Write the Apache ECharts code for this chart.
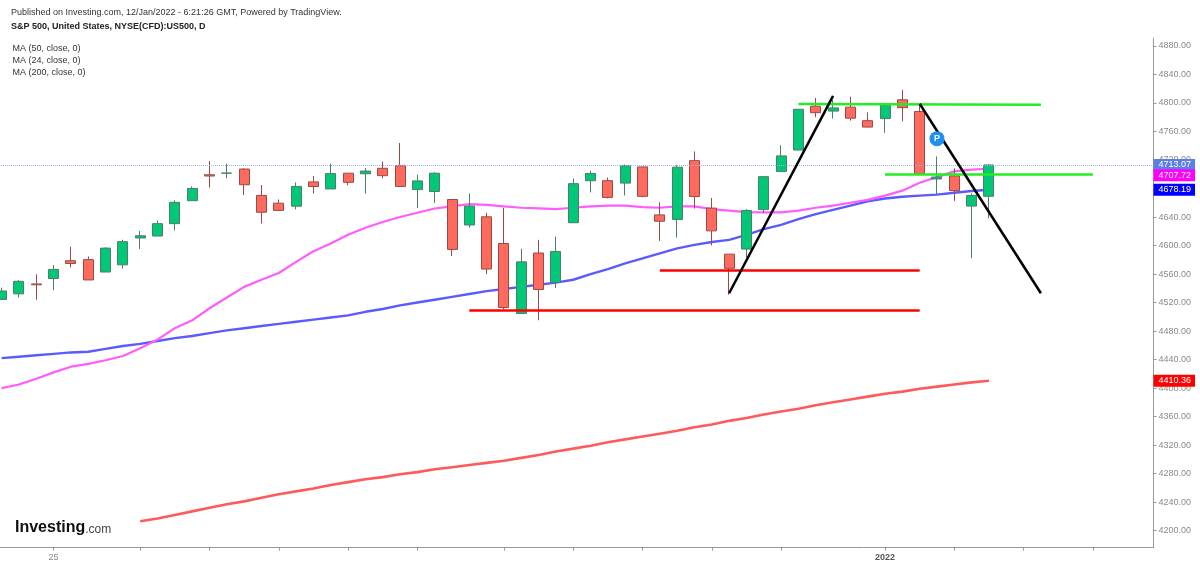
<!DOCTYPE html>
<html><head><meta charset="utf-8">
<script src="https://cdn.jsdelivr.net/npm/echarts@6/dist/echarts.min.js"></script>
<style>html,body{margin:0;padding:0;background:#fff;width:1200px;height:566px;overflow:hidden;position:relative}#c{position:absolute;left:-7px;top:0;width:1207px;height:566px}</style>
</head><body><div id="c"></div>
<script>
const dates = ['2021-10-20','2021-10-21','2021-10-22','2021-10-25','2021-10-26','2021-10-27','2021-10-28','2021-10-29',
'2021-11-01','2021-11-02','2021-11-03','2021-11-04','2021-11-05','2021-11-08','2021-11-09','2021-11-10','2021-11-11','2021-11-12',
'2021-11-15','2021-11-16','2021-11-17','2021-11-18','2021-11-19','2021-11-22','2021-11-23','2021-11-24','2021-11-26','2021-11-29','2021-11-30',
'2021-12-01','2021-12-02','2021-12-03','2021-12-06','2021-12-07','2021-12-08','2021-12-09','2021-12-10','2021-12-13','2021-12-14','2021-12-15',
'2021-12-16','2021-12-17','2021-12-20','2021-12-21','2021-12-22','2021-12-23','2021-12-27','2021-12-28','2021-12-29','2021-12-30','2021-12-31',
'2022-01-03','2022-01-04','2022-01-05','2022-01-06','2022-01-07','2022-01-10','2022-01-11'];
const futureDates = ['2022-01-12','2022-01-13','2022-01-14','2022-01-17','2022-01-18','2022-01-19','2022-01-20','2022-01-21','2022-01-24'];

const opens = [4524.4,4532.2,4546.1,4553.7,4578.7,4580.2,4562.8,4572.9,4610.6,4613.3,4630.7,4662.9,4699.3,4701.5,4707.3,4670.3,4659.4,4655.2,
4689.3,4679.4,4701.5,4700.7,4708.4,4712.0,4678.5,4675.8,4664.6,4628.8,4640.3,4602.8,4504.7,4589.5,4548.4,4632.0,4690.9,4691.0,4687.6,4710.3,
4643.0,4636.5,4719.1,4652.5,4587.9,4595.0,4650.4,4704.0,4734.0,4795.5,4788.6,4794.2,4775.2,4778.1,4804.5,4788.0,4693.4,4697.7,4655.3,4669.1];
const highs = [4540.9,4551.4,4559.7,4572.6,4598.5,4584.6,4597.6,4608.1,4620.3,4635.2,4663.5,4683.0,4718.5,4714.9,4708.5,4684.9,4664.6,4688.5,
4697.4,4715.0,4701.5,4708.8,4717.8,4743.8,4699.4,4702.9,4664.6,4673.0,4646.0,4652.9,4595.5,4608.0,4612.6,4694.0,4705.1,4695.3,4713.6,4710.3,
4660.5,4712.6,4732.0,4666.7,4587.9,4651.1,4697.7,4740.7,4791.5,4807.0,4804.1,4808.9,4786.8,4796.6,4818.6,4797.7,4725.0,4708.0,4673.0,4714.1];
const lows = [4524.4,4526.9,4524.0,4537.4,4569.2,4551.7,4562.8,4567.6,4595.1,4613.3,4621.2,4662.6,4681.3,4694.4,4670.9,4630.9,4648.3,4650.8,
4672.9,4679.4,4684.4,4672.8,4694.2,4682.2,4652.7,4659.9,4585.4,4625.3,4560.0,4510.3,4504.7,4495.1,4540.5,4632.0,4674.5,4666.0,4670.2,4667.6,
4606.5,4611.2,4651.9,4600.2,4531.1,4583.2,4645.5,4704.0,4734.0,4780.0,4778.1,4775.3,4765.8,4758.2,4774.3,4699.4,4671.3,4662.7,4582.2,4638.3];
const closes = [4536.2,4549.8,4544.9,4566.5,4574.8,4551.7,4596.4,4605.4,4613.7,4630.7,4660.6,4680.1,4697.5,4701.7,4685.3,4646.7,4649.3,4682.9,
4682.8,4700.9,4688.7,4704.5,4698.0,4682.9,4690.7,4701.5,4594.6,4655.3,4567.0,4513.0,4577.1,4538.4,4591.7,4686.8,4701.2,4667.5,4712.0,4669.0,
4634.1,4709.9,4668.7,4620.6,4568.0,4649.2,4696.6,4725.8,4791.2,4786.4,4793.1,4778.7,4766.2,4796.6,4793.5,4700.6,4696.1,4677.0,4670.3,4713.07];

const ma50 = [4442,4444,4446,4448,4450,4451,4455,4459,4462,4466,4470,4473,4477,4481,4484,4487,4490,4493,4496,4499,4502,4507,4511,4516,4520,
4524,4528,4532,4536,4539,4542,4545,4548,4552,4560,4567,4575,4582,4589,4596,4601,4605,4608,4615,4623,4629,4637,4644,4650,4656,4662,4666,
4668.5,4670,4671.5,4674,4676.5,4678.19];
const ma24 = [4400,4405,4413,4422,4430,4434,4439,4445,4456,4468,4484,4495,4512,4527,4542,4552,4561.5,4577,4592,4603,4615,4625,4633,4640,4646,
4652,4655,4658,4657,4655,4653,4652,4651,4653,4655,4656,4656,4654,4653,4655,4655,4651,4649,4647,4646.5,4646.5,4649,4653,4656,4660,4664,4670,
4677,4688,4696,4704,4706.5,4707.72];
const ma200 = ['-','-','-','-','-','-','-','-',4213,4217,4222,4227,4232,4237,4241,4246,4251,4255,4259,4264,4268,4272,4275,4279,4282,4286,4289,
4292,4295,4298,4302,4306,4311,4315,4319,4324,4328,4332,4336,4340,4345,4349,4354,4358,4363,4367,4371,4376,4380,4384,4388,4392,4395,4399,4402,
4405,4408,4410.36];

const yTicks = [4200,4240,4280,4320,4360,4400,4440,4480,4520,4560,4600,4640,4680,4720,4760,4800,4840,4880];
const xTickDates = ['2021-10-25','2021-11-01','2021-11-05','2021-11-11','2021-11-17','2021-11-23','2021-12-01','2021-12-07','2021-12-13',
'2021-12-17','2021-12-23','2022-01-03','2022-01-07','2022-01-13','2022-01-19'];
const xLabelDates = ['2021-10-25','2022-01-03'];
const xLabelTexts = ['25','2022'];

// drawing annotations in data coordinates [category index, price]
const blackLines = [[[42,4533],[48,4810]],[[53,4799],[60,4533]]];
const greenLines = [[[46,4798.5],[60,4797.5]],[[51,4700],[63,4700]]];
const redLines = [[[38,4565.5],[53,4565.5]],[[27,4509.5],[53,4509.5]]];
const pMarker = [54,4750];

const cats = dates.concat(futureDates);
const pad = arr => arr.concat(futureDates.map(() => '-'));
const candles = dates.map((d,i) => [opens[i], closes[i], lows[i], highs[i]]);
const last = a => a[a.length-1];
const OX = 7; // chart canvas is shifted 7px left of the page

function seg(lines, color, width) {
  return lines.map(l => [
    {coord: l[0], lineStyle: {color, width, type: 'solid'}},
    {coord: l[1], lineStyle: {color, width, type: 'solid'}}
  ]);
}
function tag(value, text, bg, lineStyle) {
  return {
    yAxis: value,
    lineStyle: lineStyle || {color: 'rgba(0,0,0,0)', width: 0},
    label: {show: true, position: 'end', distance: 0, formatter: text, color: '#fff', backgroundColor: bg,
            fontSize: 9, fontFamily: 'Arial, Liberation Sans, sans-serif', padding: [1, 4, 1, 5], lineHeight: 10}
  };
}
const F = 'Arial, Liberation Sans, sans-serif';

const chart = echarts.init(document.getElementById('c'), null, {renderer: 'canvas'});
chart.setOption({
  animation: false,
  backgroundColor: '#fff',
  textStyle: {fontFamily: F},
  grid: {left: 0, right: 46.5, top: 38, bottom: 18.3, containLabel: false},
  xAxis: {
    type: 'category', data: cats, boundaryGap: true,
    axisLine: {show: true, lineStyle: {color: '#9a9a9a', width: 1}},
    axisTick: {show: true, alignWithLabel: true, length: 3, lineStyle: {color: '#9a9a9a'},
               interval: (i, v) => xTickDates.includes(v)},
    axisLabel: {show: true, interval: (i, v) => xLabelDates.includes(v), margin: 5,
                fontSize: 9, color: '#8a8a8a',
                formatter: v => { const k = xLabelDates.indexOf(v); return k === 1 ? '{b|' + xLabelTexts[k] + '}' : xLabelTexts[k]; },
                rich: {b: {fontSize: 9, fontWeight: 'bold', color: '#555'}}},
    splitLine: {show: false}
  },
  yAxis: {
    type: 'value', position: 'right', min: 4176, max: 4891.2, scale: true,
    axisLine: {show: true, lineStyle: {color: '#9a9a9a', width: 1}},
    axisTick: {show: true, length: 3, lineStyle: {color: '#9a9a9a'}, customValues: yTicks},
    axisLabel: {show: true, customValues: yTicks, margin: 5, fontSize: 9, color: '#8a8a8a', formatter: v => v.toFixed(2)},
    splitLine: {show: false}
  },
  series: [
    {name: 'MA200', type: 'line', data: pad(ma200), showSymbol: false, z: 2,
     lineStyle: {color: '#ff5a5a', width: 2.6}},
    {name: 'MA50', type: 'line', data: pad(ma50), showSymbol: false, z: 2,
     lineStyle: {color: '#5a5aff', width: 2.4}},
    {name: 'MA24', type: 'line', data: pad(ma24), showSymbol: false, z: 2,
     lineStyle: {color: '#ff5cff', width: 2.2}},
    {name: 'S&P 500', type: 'candlestick', data: candles, barWidth: 10.5, z: 3,
     itemStyle: {color: '#00c878', color0: '#ff6a5f', borderColor: '#4f7d66', borderColor0: '#9a4a44', borderWidth: 1},
     markLine: {
       silent: true, symbol: ['none', 'none'], animation: false,
       data: [
         tag(closes[closes.length-1], closes[closes.length-1].toFixed(2), '#5b7fe6', {color: '#9db3ee', width: 1, type: 'dotted'}),
         tag(4698.5, last(ma24).toFixed(2), '#ff00ff'),
         tag(last(ma50), last(ma50).toFixed(2), '#0000ff'),
         tag(last(ma200), last(ma200).toFixed(2), '#ff0000')
       ].concat(seg(redLines, '#ff0000', 2.5), seg(greenLines, '#22ee22', 2.5), seg(blackLines, '#000000', 2.5))
     },
     markPoint: {
       silent: true, animation: false,
       data: [{coord: pMarker, symbol: 'circle', symbolSize: 15, itemStyle: {color: '#1e90f0'},
               label: {show: true, formatter: 'P', color: '#fff', fontWeight: 'bold', fontSize: 9, position: 'inside'}}]
     }
    }
  ],
  graphic: [
    {type: 'text', x: 11 + OX, y: 12.5, style: {text: 'Published on Investing.com, 12/Jan/2022 - 6:21:26 GMT, Powered by TradingView.', fontSize: 9, fontFamily: F, fill: '#333', verticalAlign: 'middle'}},
    {type: 'text', x: 11 + OX, y: 27, style: {text: 'S&P 500, United States, NYSE(CFD):US500, D', fontSize: 9, fontWeight: 'bold', fontFamily: F, fill: '#222', verticalAlign: 'middle'}},
    {type: 'text', x: 12.5 + OX, y: 49, style: {text: 'MA (50, close, 0)', fontSize: 9, fontFamily: F, fill: '#333', verticalAlign: 'middle'}},
    {type: 'text', x: 12.5 + OX, y: 61, style: {text: 'MA (24, close, 0)', fontSize: 9, fontFamily: F, fill: '#333', verticalAlign: 'middle'}},
    {type: 'text', x: 12.5 + OX, y: 72.5, style: {text: 'MA (200, close, 0)', fontSize: 9, fontFamily: F, fill: '#333', verticalAlign: 'middle'}},
    {type: 'text', x: 15 + OX, y: 528, z: 10, style: {text: '{a|Investing}{b|.com}', verticalAlign: 'middle',
      rich: {a: {fontSize: 16, fontWeight: 'bold', fontFamily: F, fill: '#111', color: '#111'},
             b: {fontSize: 12, fontFamily: F, fill: '#444', color: '#444', padding: [3, 0, 0, 0]}}}}
  ]
});
</script></body></html>
